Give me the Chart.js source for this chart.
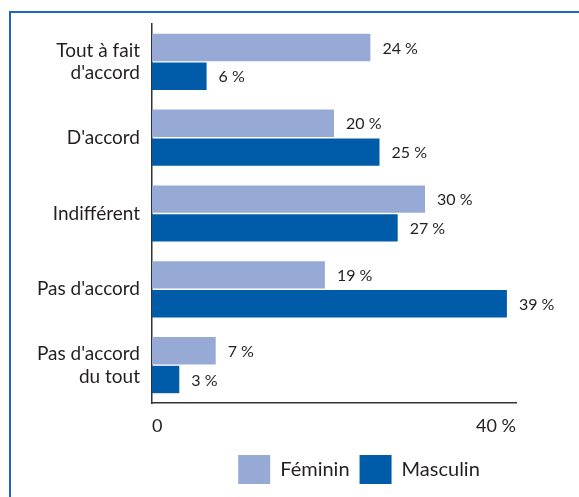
<!DOCTYPE html>
<html>
<head>
<meta charset="utf-8">
<script src="https://cdn.jsdelivr.net/npm/chart.js@4"></script>
<style>
    body { margin: 0; background: #fff; }
    #wrap { position: relative; width: 579px; height: 497px; overflow: hidden; }
    #frame {
        position: absolute; left: 9px; top: 11px; width: 600px; height: 520px;
        border-left: 2px solid #1f68b7; border-top: 2px solid #1f68b7;
    }
    #wrap canvas { position: absolute; left: 0; top: 0; }
</style>
</head>
<body>
<div id="wrap">
    <div id="frame"></div>
    <canvas id="barChart" width="579" height="497"></canvas>
</div>
<script>
// data
const categories = [["Tout à fait", "d'accord"], "D'accord", "Indifférent", "Pas d'accord", ["Pas d'accord", "du tout"]];
const feminin = [24, 20, 30, 19, 7];
const masculin = [6, 25, 27, 39, 3];
const seriesNames = ["Féminin", "Masculin"];
const xTickLabels = { 0: "0", 40: "40 %" };

const textColor = "#231f20";
const fontFamily = "Lato, 'Open Sans', sans-serif";

// draws "24 %" etc. to the right of each bar
const valueLabels = {
    id: "valueLabels",
    afterDatasetsDraw(chart) {
        const c = chart.ctx;
        c.save();
        c.font = "16px " + fontFamily;
        c.fillStyle = textColor;
        c.textAlign = "left";
        c.textBaseline = "middle";
        chart.data.datasets.forEach((ds, i) => {
            chart.getDatasetMeta(i).data.forEach((bar, j) => {
                c.fillText(ds.data[j] + " %", bar.x + 12, bar.y + 1);
            });
        });
        c.restore();
    }
};

// legend sits right of the canvas centre in the original
const legendShift = {
    id: "legendShift",
    afterLayout(chart) {
        chart.legend.left += 90;
        chart.legend.right += 90;
    }
};

const ctx = document.getElementById("barChart").getContext("2d");

new Chart(ctx, {
    type: "bar",
    data: {
        labels: categories,
        datasets: [{
            label: seriesNames[0],
            data: feminin,
            backgroundColor: "#97aad6",
            categoryPercentage: 0.76,
            barPercentage: 0.95
        }, {
            label: seriesNames[1],
            data: masculin,
            backgroundColor: "#005ca9",
            categoryPercentage: 0.76,
            barPercentage: 0.95
        }]
    },
    options: {
        indexAxis: "y",
        responsive: false,
        animation: false,
        layout: {
            padding: { top: 24, left: 22, right: 63, bottom: 3 }
        },
        scales: {
            x: {
                min: 0,
                max: 40,
                ticks: {
                    stepSize: 40,
                    padding: 12,
                    align: "inner",
                    color: textColor,
                    font: { family: fontFamily, size: 18 },
                    callback: v => xTickLabels[v]
                },
                grid: { display: false, drawTicks: false },
                border: { display: true, color: "#333", width: 1.5 },
                afterFit: s => { s.height = 42; }
            },
            y: {
                ticks: {
                    padding: 12,
                    color: textColor,
                    font: { family: fontFamily, size: 19, lineHeight: 1.2 }
                },
                grid: { display: false, drawTicks: false },
                border: { display: true, color: "#333", width: 1.5 },
                afterFit: s => {
                    s.width = 130;
                    s.paddingTop = 0;
                    s.paddingBottom = 0;
                }
            }
        },
        plugins: {
            legend: {
                position: "bottom",
                labels: {
                    boxWidth: 32,
                    boxHeight: 29,
                    padding: 10,
                    color: textColor,
                    font: { family: fontFamily, size: 20 }
                }
            },
            tooltip: { enabled: false }
        }
    },
    plugins: [valueLabels, legendShift]
});
</script>
</body>
</html>
